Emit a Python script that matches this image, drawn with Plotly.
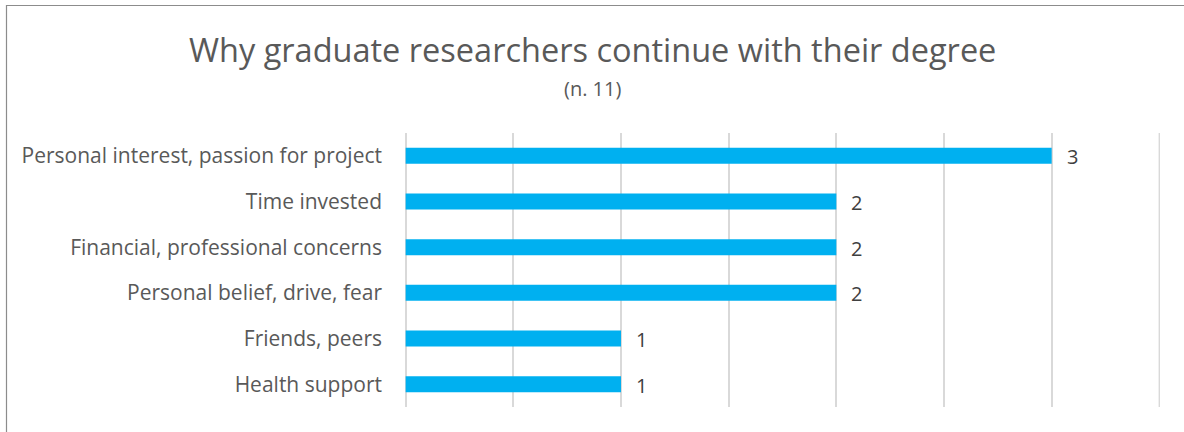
import plotly.graph_objects as go

# Reasons, listed top to bottom, and the number of respondents citing each
reasons = [
    "Personal interest, passion for project",
    "Time invested",
    "Financial, professional concerns",
    "Personal belief, drive, fear",
    "Friends, peers",
    "Health support",
]
counts = [3, 2, 2, 2, 1, 1]
x_max = 3.5

title_text = "Why graduate researchers continue with their degree"
subtitle_text = "(n. 11)"

FONT = "'Open Sans', Lato, sans-serif"
TEXT_COLOR = "#595959"
VALUE_COLOR = "#404040"
BAR_COLOR = "#00B0F0"
GRID_COLOR = "#D9D9D9"

W, H = 1184, 432
L, R, T, B = 405, 24, 133, 25

fig = go.Figure(
    go.Bar(
        x=counts,
        y=reasons,
        orientation="h",
        marker=dict(color=BAR_COLOR, line=dict(width=0)),
        width=0.35,
        cliponaxis=False,
    )
)

# Value labels just past the end of each bar
for reason, count in zip(reasons, counts):
    fig.add_annotation(
        x=count, y=reason, text=str(count),
        xanchor="left", yanchor="middle", xshift=13, yshift=-1,
        showarrow=False,
        font=dict(family=FONT, size=20, color=VALUE_COLOR),
    )

fig.update_layout(
    width=W,
    height=H,
    margin=dict(l=L, r=R, t=T, b=B),
    paper_bgcolor="white",
    plot_bgcolor="white",
    showlegend=False,
    font=dict(family=FONT, color=TEXT_COLOR),
    xaxis=dict(
        range=[-0.003, x_max + 0.003],
        dtick=0.5,
        tick0=0,
        showgrid=True,
        gridcolor=GRID_COLOR,
        gridwidth=1.5,
        zeroline=True,
        zerolinecolor=GRID_COLOR,
        zerolinewidth=1.5,
        showticklabels=False,
        showline=False,
    ),
    yaxis=dict(
        autorange="reversed",
        showgrid=False,
        zeroline=False,
        tickfont=dict(family=FONT, size=21, color=TEXT_COLOR),
        ticks="",
        ticklabelstandoff=22,
    ),
)

# Closing gridline at the right end of the value axis
fig.add_shape(type="line", xref="x", yref="paper",
              x0=x_max, x1=x_max, y0=0, y1=1,
              line=dict(color=GRID_COLOR, width=1.5), layer="below")

fig.add_annotation(
    text=title_text,
    xref="paper", yref="paper",
    x=(W / 2 - L) / (W - L - R),
    y=1 + (T - 50) / (H - T - B),
    xanchor="center", yanchor="middle",
    showarrow=False,
    font=dict(family=FONT, size=32.5, color=TEXT_COLOR),
)
fig.add_annotation(
    text=subtitle_text,
    xref="paper", yref="paper",
    x=(W / 2 - L) / (W - L - R),
    y=1 + (T - 88) / (H - T - B),
    xanchor="center", yanchor="middle",
    showarrow=False,
    font=dict(family=FONT, size=20, color=TEXT_COLOR),
)

# Chart frame: a thin gray border along the top and left edges
px = lambda v: (v - L) / (W - L - R)
py = lambda v: 1 - (v - T) / (H - T - B)
fig.add_shape(type="line", xref="paper", yref="paper",
              x0=px(6), x1=px(W + 10), y0=py(5.5), y1=py(5.5),
              line=dict(color="#8C8C8C", width=1.2))
fig.add_shape(type="line", xref="paper", yref="paper",
              x0=px(6.5), x1=px(6.5), y0=py(5), y1=py(H + 10),
              line=dict(color="#8C8C8C", width=1.2))

fig.write_html("out.html")
